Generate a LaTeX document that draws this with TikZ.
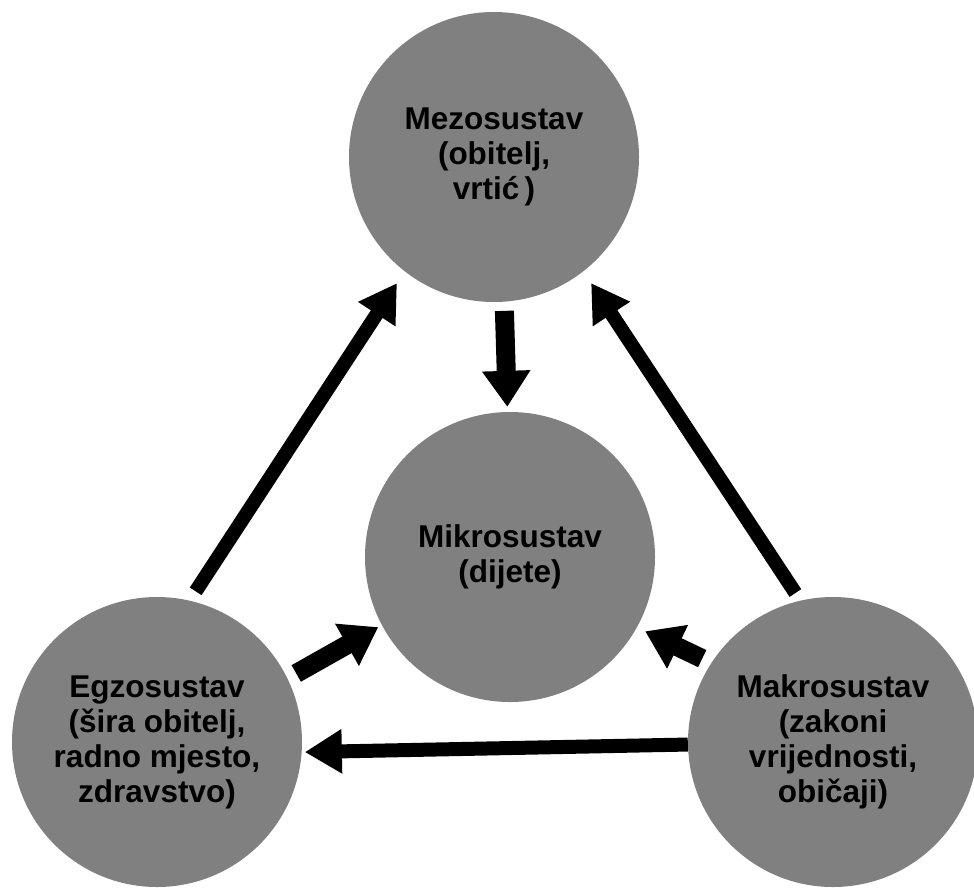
\documentclass[tikz,border=0pt]{standalone}
\usepackage{fontspec}
\setmainfont{Liberation Sans}
\usetikzlibrary{arrows.meta}
\definecolor{circgray}{RGB}{128,128,128}
\begin{document}
\begin{tikzpicture}[x=1pt,y=-1pt,
  sys/.style={circle, fill=circgray, minimum size=290pt, inner sep=0pt, align=center,
    font=\fontsize{31.5}{35}\selectfont\bfseries},
  longarrow/.style={line width=14pt, -{Triangle[length=37pt,width=42pt]}},
  heavyarrow/.style={line width=19pt, -{Triangle[length=36pt,width=46pt]}}]
\useasboundingbox (0,0) rectangle (974,887);
\clip (0,0) rectangle (974,887);
\node[sys] (mezo)  at (494,157) {Mezosustav\\(obitelj,\\vrtić\,)};
\node[sys] (mikro) at (510,557) {Mikrosustav\\(dijete)};
\node[sys] (egzo)  at (157,742) {Egzosustav\\(šira obitelj,\\radno mjesto,\\zdravstvo)};
\node[sys] (makro) at (833,742) {Makrosustav\\(zakoni\\vrijednosti,\\običaji)};
\draw[longarrow, shorten <=11pt, shorten >=14pt] (egzo.77) -- (mezo.232);
\draw[longarrow, shorten <=9pt, shorten >=14pt] (makro.103) -- (mezo.308);
\draw[heavyarrow, shorten <=9pt, shorten >=5pt] (mezo.274) -- (mikro.91);
\draw[heavyarrow, shorten <=10pt, shorten >=4pt] (egzo.26) -- (mikro.208);
\draw[heavyarrow, shorten <=10pt, shorten >=9pt] (makro.147) -- (mikro.331);
\draw[longarrow, shorten <=0pt, shorten >=3pt] (makro.181) -- (egzo.-4);
\end{tikzpicture}
\end{document}
